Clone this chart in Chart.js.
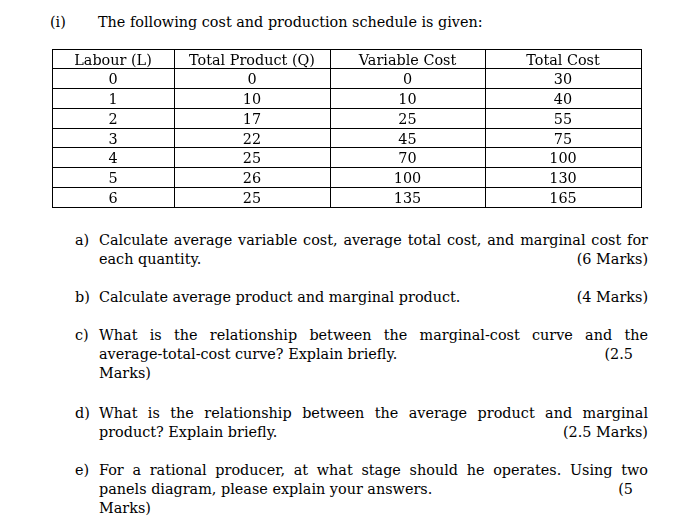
<!DOCTYPE html>
<html>
<head>
<meta charset="utf-8">
<script src="https://cdn.jsdelivr.net/npm/chart.js@4.4.1/dist/chart.umd.min.js"></script>
<style>
  html, body { margin: 0; padding: 0; background: #fff; }
  body { width: 694px; height: 526px; position: relative; overflow: hidden;
         font: 14.4px 'DejaVu Serif', serif; color: #000; }
  .ln { position: absolute; white-space: nowrap; line-height: 19px; }
  .just { text-align: justify; text-align-last: justify; white-space: normal; }
  .row { display: flex; justify-content: space-between; }
  #tableWrap { position: absolute; left: 51px; top: 48px; }
</style>
</head>
<body>

<div class="ln" style="left:50px; top:13px;">(i)</div>
<div class="ln" style="left:98px; top:13px;">The following cost and production schedule is given:</div>

<div id="tableWrap"><canvas id="table" width="591" height="160"></canvas></div>

<!-- a -->
<div class="ln" style="left:75px; top:231px;">a)</div>
<div class="ln just" style="left:99px; top:231px; width:549px;">Calculate average variable cost, average total cost, and marginal cost for</div>
<div class="ln row" style="left:99px; top:250px; width:549px;"><span>each quantity.</span><span>(6 Marks)</span></div>

<!-- b -->
<div class="ln" style="left:75px; top:288px;">b)</div>
<div class="ln row" style="left:99px; top:288px; width:549px;"><span>Calculate average product and marginal product.</span><span>(4 Marks)</span></div>

<!-- c -->
<div class="ln" style="left:75px; top:326px;">c)</div>
<div class="ln just" style="left:99px; top:326px; width:549px;">What is the relationship between the marginal-cost curve and the</div>
<div class="ln row" style="left:99px; top:345px; width:534px;"><span>average-total-cost curve? Explain briefly.</span><span>(2.5</span></div>
<div class="ln" style="left:99px; top:364px;">Marks)</div>

<!-- d -->
<div class="ln" style="left:75px; top:404px;">d)</div>
<div class="ln just" style="left:99px; top:404px; width:549px;">What is the relationship between the average product and marginal</div>
<div class="ln row" style="left:99px; top:423px; width:549px;"><span>product? Explain briefly.</span><span>(2.5 Marks)</span></div>

<!-- e -->
<div class="ln" style="left:75px; top:461px;">e)</div>
<div class="ln just" style="left:99px; top:461px; width:549px;">For a rational producer, at what stage should he operates. Using two</div>
<div class="ln row" style="left:99px; top:480px; width:534px;"><span>panels diagram, please explain your answers.</span><span>(5</span></div>
<div class="ln" style="left:99px; top:499px;">Marks)</div>

<script>
// --- Table data ---
const headers = ['Labour (L)', 'Total Product (Q)', 'Variable Cost', 'Total Cost'];
const labour = [0, 1, 2, 3, 4, 5, 6];
const totalProduct = [0, 10, 17, 22, 25, 26, 25];
const variableCost = [0, 10, 25, 45, 70, 100, 135];
const totalCost = [30, 40, 55, 75, 100, 130, 165];

// column widths in px (layout only)
const colWidths = [122, 156, 155, 156];
const colEdges = colWidths.reduce((acc, w) => { acc.push(acc[acc.length - 1] + w); return acc; }, [0]);
const colCenters = colWidths.map((w, i) => colEdges[i] + w / 2);
const nRows = labour.length + 1;

const columns = [labour, totalProduct, variableCost, totalCost];
const cells = [];
headers.forEach((h, c) => cells.push({ x: colCenters[c], y: 0.5, text: h }));
columns.forEach((col, c) => {
  col.forEach((v, r) => cells.push({ x: colCenters[c], y: r + 1.5, text: String(v) }));
});

// draws the cell texts at the positions the scales give
const cellText = {
  id: 'cellText',
  afterDatasetsDraw(chart) {
    const { ctx } = chart;
    const meta = chart.getDatasetMeta(0);
    ctx.save();
    ctx.fillStyle = '#000';
    ctx.font = "14.4px 'DejaVu Serif'";
    ctx.textAlign = 'center';
    ctx.textBaseline = 'middle';
    meta.data.forEach((pt, i) => {
      ctx.fillText(cells[i].text, pt.x, pt.y + 2);
    });
    ctx.restore();
  }
};

const gridOpts = { color: '#000', lineWidth: 1, drawTicks: false };

new Chart(document.getElementById('table'), {
  type: 'scatter',
  data: { datasets: [{ data: cells, pointRadius: 0, pointHoverRadius: 0 }] },
  options: {
    responsive: false,
    animation: false,
    events: [],
    layout: { padding: 1 },
    plugins: { legend: { display: false }, tooltip: { enabled: false } },
    scales: {
      x: {
        type: 'linear', min: 0, max: colEdges[colEdges.length - 1],
        afterBuildTicks: (axis) => { axis.ticks = colEdges.map(v => ({ value: v })); },
        ticks: { display: false },
        grid: gridOpts,
        border: { color: '#000', width: 1 }
      },
      y: {
        type: 'linear', min: 0, max: nRows, reverse: true,
        afterBuildTicks: (axis) => { axis.ticks = Array.from({ length: nRows + 1 }, (_, i) => ({ value: i })); },
        ticks: { display: false },
        grid: gridOpts,
        border: { color: '#000', width: 1 }
      }
    }
  },
  plugins: [cellText]
});
</script>
</body>
</html>
